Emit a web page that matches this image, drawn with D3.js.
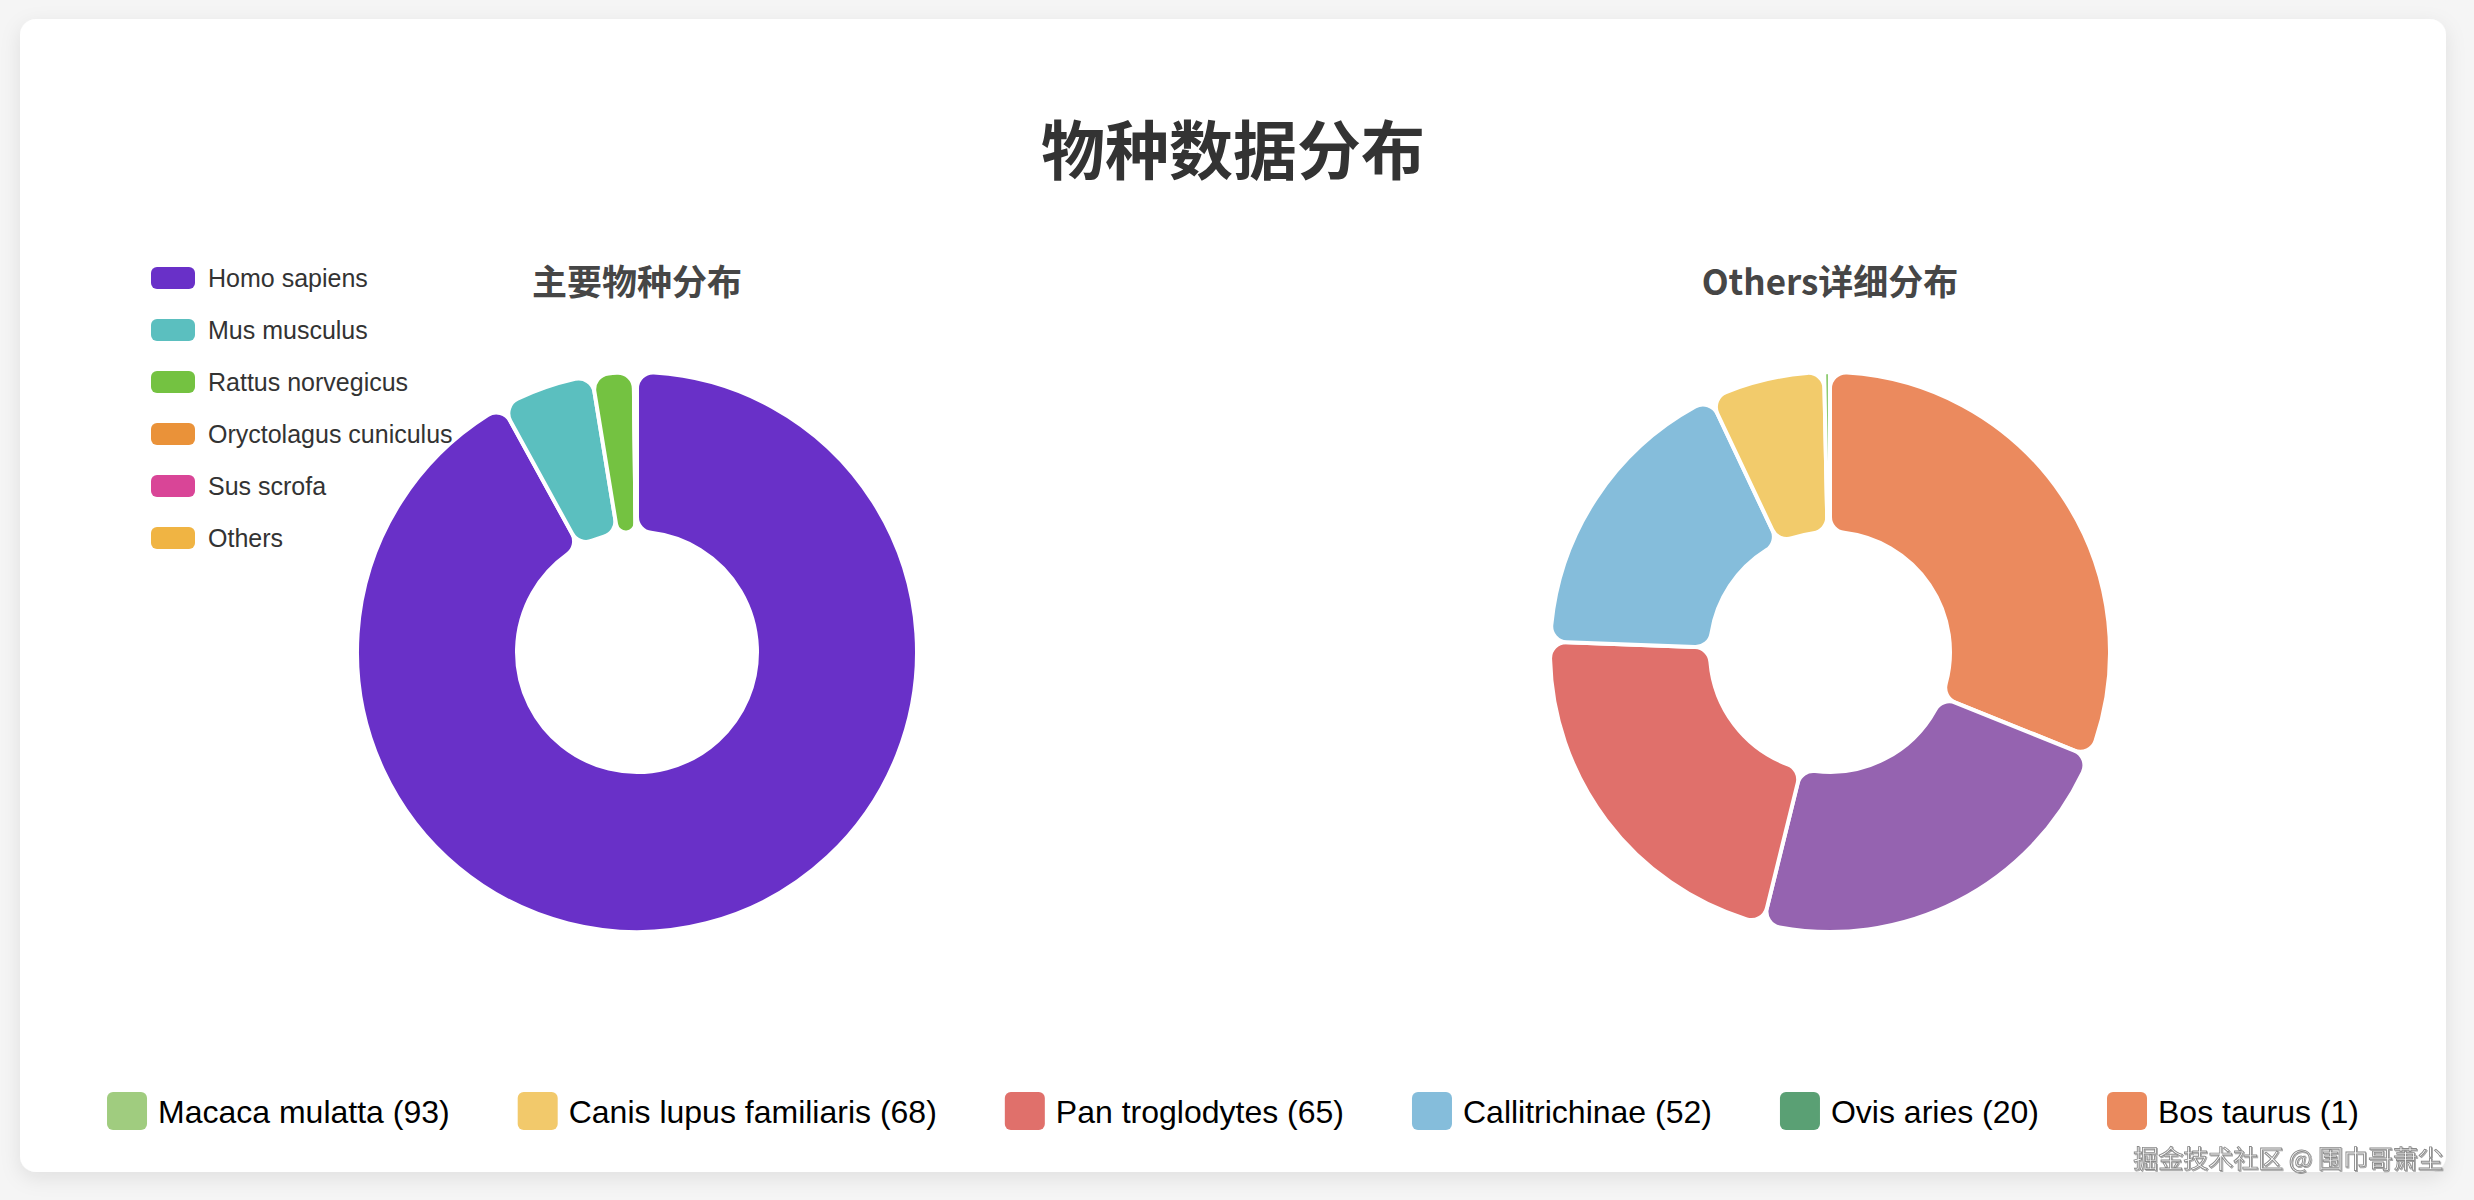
<!DOCTYPE html>
<html>
<head>
<meta charset="utf-8">
<script src="https://cdn.jsdelivr.net/npm/d3@7"></script>
<style>
  html, body { margin: 0; padding: 0; background: #f5f5f5; }
  svg { display: block; }
</style>
</head>
<body>
<svg id="chart"></svg>
<script>
// main chart data
const mainSpecies = ['Homo sapiens', 'Mus musculus', 'Rattus norvegicus', 'Oryctolagus cuniculus', 'Sus scrofa', 'Others'];
const mainCounts = [196000, 11500, 5100, 60, 40, 299];
const mainColors = ['#6930c8', '#5bbfbf', '#74c241', '#ea9239', '#d94597', '#f0b443'];

// "Others" detail data
const otherSpecies = ['Macaca mulatta', 'Canis lupus familiaris', 'Pan troglodytes', 'Callitrichinae', 'Ovis aries', 'Bos taurus'];
const otherCounts = [93, 68, 65, 52, 20, 1];
const otherSliceColors = ['#eb8a5e', '#9563b0', '#e0706b', '#85bddb', '#f2cb6b', '#8fcc72'];
const otherLegendColors = ['#a0cc7f', '#f2c96b', '#e0706b', '#85bddb', '#5aa074', '#eb8a5e'];

const width = 2474;
const height = 1200;
const card = { x: 20, y: 19, w: 2426, h: 1153 };

const svg = d3.select('#chart').attr('width', width).attr('height', height);

const defs = svg.append('defs');
const shadow = defs.append('filter').attr('id', 'shadow')
  .attr('x', '-5%').attr('y', '-5%').attr('width', '110%').attr('height', '115%');
shadow.append('feDropShadow')
  .attr('dx', 0).attr('dy', 6).attr('stdDeviation', 10)
  .attr('flood-color', '#000').attr('flood-opacity', 0.09);

const markShadow = defs.append('filter').attr('id', 'markShadow');
markShadow.append('feDropShadow')
  .attr('dx', 1).attr('dy', 1).attr('stdDeviation', 0.6)
  .attr('flood-color', '#000').attr('flood-opacity', 0.35);

svg.append('rect').attr('width', width).attr('height', height).attr('fill', '#f5f5f5');
svg.append('rect')
  .attr('x', card.x).attr('y', card.y)
  .attr('width', card.w).attr('height', card.h)
  .attr('rx', 16)
  .attr('fill', '#fff')
  .attr('filter', 'url(#shadow)');

const cx = card.x + card.w / 2;

// main title
svg.append('text')
  .attr('x', cx).attr('y', 146)
  .attr('text-anchor', 'middle')
  .attr('dominant-baseline', 'central')
  .style('font-family', '"Noto Sans CJK SC", sans-serif')
  .style('font-weight', 700)
  .style('font-size', '64px')
  .attr('fill', '#333')
  .text('物种数据分布');

const pie = d3.pie().sort(null).value(d => d.value);
const arc = d3.arc().innerRadius(120).outerRadius(280).cornerRadius(16);

function drawDonut(center, title, names, values, colors) {
  const color = d3.scaleOrdinal().domain(names).range(colors);
  const data = names.map((n, i) => ({ name: n, value: values[i] }));

  svg.append('text')
    .attr('x', center[0]).attr('y', 279)
    .attr('text-anchor', 'middle')
    .attr('dominant-baseline', 'central')
    .style('font-family', '"Noto Sans CJK SC", sans-serif')
    .style('font-weight', 700)
    .style('font-size', '35px')
    .attr('fill', '#464646')
    .text(title);

  const g = svg.append('g').attr('transform', `translate(${center[0]}, ${center[1]})`);
  g.selectAll('path')
    .data(pie(data))
    .join('path')
    .attr('d', arc)
    .attr('fill', d => color(d.data.name))
    .attr('stroke', '#fff')
    .attr('stroke-width', 4)
    .attr('stroke-linejoin', 'round');
}

drawDonut([637, 652], '主要物种分布', mainSpecies, mainCounts, mainColors);
drawDonut([1830, 652], 'Others详细分布', otherSpecies, otherCounts, otherSliceColors);

// left vertical legend
const leftLegend = svg.append('g').attr('transform', 'translate(151, 278)');
const leftItems = leftLegend.selectAll('g')
  .data(mainSpecies)
  .join('g')
  .attr('transform', (d, i) => `translate(0, ${i * 52})`);
leftItems.append('rect')
  .attr('x', 0).attr('y', -11)
  .attr('width', 44).attr('height', 22)
  .attr('rx', 6)
  .attr('fill', (d, i) => mainColors[i]);
leftItems.append('text')
  .attr('x', 57).attr('y', 0)
  .attr('dominant-baseline', 'central')
  .style('font-family', '"Liberation Sans", Arial, sans-serif')
  .style('font-size', '25px')
  .attr('fill', '#333')
  .text(d => d);

// bottom legend, laid out like a centered flex row
const bottomLegend = svg.append('g');
const bottomItems = bottomLegend.selectAll('g')
  .data(otherSpecies)
  .join('g');
bottomItems.append('rect')
  .attr('x', 0).attr('y', -19)
  .attr('width', 40).attr('height', 38)
  .attr('rx', 6)
  .attr('fill', (d, i) => otherLegendColors[i]);
bottomItems.append('text')
  .attr('x', 51).attr('y', 1)
  .attr('dominant-baseline', 'central')
  .style('font-family', '"Liberation Sans", Arial, sans-serif')
  .style('font-size', '32px')
  .attr('fill', '#000')
  .text((d, i) => `${d} (${otherCounts[i]})`);

const itemGap = 68;
const itemWidths = [];
bottomItems.each(function () {
  itemWidths.push(51 + d3.select(this).select('text').node().getComputedTextLength());
});
const totalWidth = d3.sum(itemWidths) + itemGap * (itemWidths.length - 1);
let xPos = cx - totalWidth / 2;
bottomItems.attr('transform', (d, i) => {
  const t = `translate(${xPos}, 1111)`;
  xPos += itemWidths[i] + itemGap;
  return t;
});

// watermark
svg.append('text')
  .attr('x', 2443).attr('y', 1157)
  .attr('text-anchor', 'end')
  .attr('dominant-baseline', 'central')
  .style('font-family', '"Noto Sans CJK SC", sans-serif')
  .style('font-size', '25px')
  .attr('fill', '#fff')
  .attr('stroke', '#8a8a8a')
  .attr('stroke-width', 0.9)
  .attr('filter', 'url(#markShadow)')
  .text('掘金技术社区 @ 围巾哥萧尘');
</script>
</body>
</html>
